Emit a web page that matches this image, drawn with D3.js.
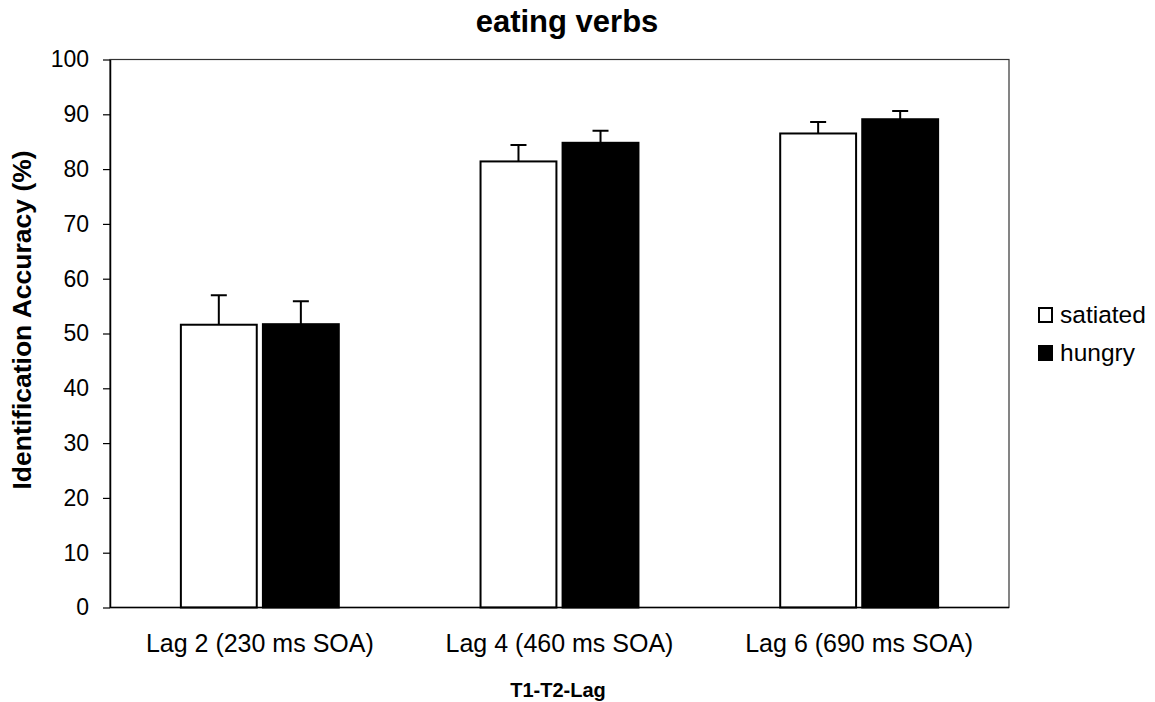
<!DOCTYPE html>
<html>
<head>
<meta charset="utf-8">
<script src="https://cdn.jsdelivr.net/npm/d3@7"></script>
<style>
  body { margin: 0; background: #fff; }
  text { font-family: Arial, "Liberation Sans", sans-serif; fill: #000; }
</style>
</head>
<body>
<div id="chart"></div>
<script>
const categories = ["Lag 2 (230 ms SOA)", "Lag 4 (460 ms SOA)", "Lag 6 (690 ms SOA)"];
const seriesNames = ["satiated", "hungry"];
const satiatedValues = [51.6, 81.4, 86.5];
const satiatedErrors = [5.4, 3.0, 2.1];
const hungryValues = [51.7, 84.8, 89.1];
const hungryErrors = [4.2, 2.2, 1.5];
const yTicks = [0, 10, 20, 30, 40, 50, 60, 70, 80, 90, 100];

const fills = { satiated: "#fff", hungry: "#000" };

(function() {
  const W = 1155, H = 702;
  const plot = { left: 110, right: 1009, top: 59.5, bottom: 607.5 };

  const svg = d3.select("#chart").append("svg")
    .attr("width", W)
    .attr("height", H);

  const data = categories.map((c, i) => ({
    category: c,
    bars: [
      { name: "satiated", value: satiatedValues[i], err: satiatedErrors[i] },
      { name: "hungry", value: hungryValues[i], err: hungryErrors[i] }
    ]
  }));

  const x0 = d3.scaleBand()
    .domain(categories)
    .range([plot.left, plot.right])
    .paddingInner(0.473)
    .paddingOuter(0.2365);

  const x1 = d3.scaleBand()
    .domain(seriesNames)
    .range([0, x0.bandwidth()])
    .paddingInner(0.075);

  const y = d3.scaleLinear().domain([0, 100]).range([plot.bottom, plot.top]);

  // plot frame
  svg.append("rect")
    .attr("x", plot.left)
    .attr("y", plot.top)
    .attr("width", plot.right - plot.left)
    .attr("height", plot.bottom - plot.top)
    .attr("fill", "none")
    .attr("stroke", "#333")
    .attr("stroke-width", 1.2);

  const groups = svg.selectAll(".grp")
    .data(data)
    .enter().append("g")
      .attr("class", "grp")
      .attr("transform", d => `translate(${x0(d.category)},0)`);

  groups.selectAll(".err")
    .data(d => d.bars)
    .enter().append("path")
      .attr("class", "err")
      .attr("fill", "none")
      .attr("stroke", "#000")
      .attr("stroke-width", 2)
      .attr("d", d => {
        const cx = x1(d.name) + x1.bandwidth() / 2;
        const yt = y(d.value + d.err);
        return `M${cx},${y(d.value)}V${yt}M${cx - 8},${yt}H${cx + 8}`;
      });

  groups.selectAll(".bar")
    .data(d => d.bars)
    .enter().append("rect")
      .attr("class", "bar")
      .attr("x", d => x1(d.name))
      .attr("y", d => y(d.value))
      .attr("width", x1.bandwidth())
      .attr("height", d => y(0) - y(d.value))
      .attr("fill", d => fills[d.name])
      .attr("stroke", "#000")
      .attr("stroke-width", 2);

  // y axis
  const yAxis = svg.append("g")
    .attr("transform", `translate(${plot.left},0)`)
    .call(d3.axisLeft(y).tickValues(yTicks).tickSize(7).tickSizeOuter(0).tickPadding(14));
  yAxis.select(".domain").attr("stroke", "#000").attr("stroke-width", 1.5);
  yAxis.selectAll(".tick line").attr("stroke", "#000").attr("stroke-width", 1.2);
  yAxis.selectAll(".tick text")
    .style("font-size", "23px")
    .style("font-family", "Arial, 'Liberation Sans', sans-serif")
    .attr("fill", "#000");

  // x axis baseline
  svg.append("line")
    .attr("x1", plot.left).attr("x2", plot.right)
    .attr("y1", y(0)).attr("y2", y(0))
    .attr("stroke", "#000")
    .attr("stroke-width", 1.5);

  svg.selectAll(".cat")
    .data(categories)
    .enter().append("text")
      .attr("class", "cat")
      .attr("x", d => x0(d) + x0.bandwidth() / 2)
      .attr("y", 652)
      .attr("text-anchor", "middle")
      .style("font-size", "25px")
      .text(d => d);

  svg.append("text")
    .attr("x", 567)
    .attr("y", 32)
    .attr("text-anchor", "middle")
    .style("font-size", "31px")
    .style("font-weight", "bold")
    .text("eating verbs");

  svg.append("text")
    .attr("x", 558)
    .attr("y", 697)
    .attr("text-anchor", "middle")
    .style("font-size", "20px")
    .style("font-weight", "bold")
    .text("T1-T2-Lag");

  svg.append("text")
    .attr("transform", "translate(31,320) rotate(-90)")
    .attr("text-anchor", "middle")
    .style("font-size", "26.5px")
    .style("font-weight", "bold")
    .text("Identification Accuracy (%)");

  const legend = svg.selectAll(".legend")
    .data(seriesNames)
    .enter().append("g")
      .attr("class", "legend")
      .attr("transform", (d, i) => `translate(1038,${307 + i * 38})`);

  legend.append("rect")
    .attr("x", 1)
    .attr("y", 1)
    .attr("width", 13)
    .attr("height", 14)
    .attr("fill", d => fills[d])
    .attr("stroke", "#000")
    .attr("stroke-width", 2);

  legend.append("text")
    .attr("x", 22)
    .attr("y", 16)
    .style("font-size", "24.5px")
    .text(d => d);
})();
</script>
</body>
</html>
